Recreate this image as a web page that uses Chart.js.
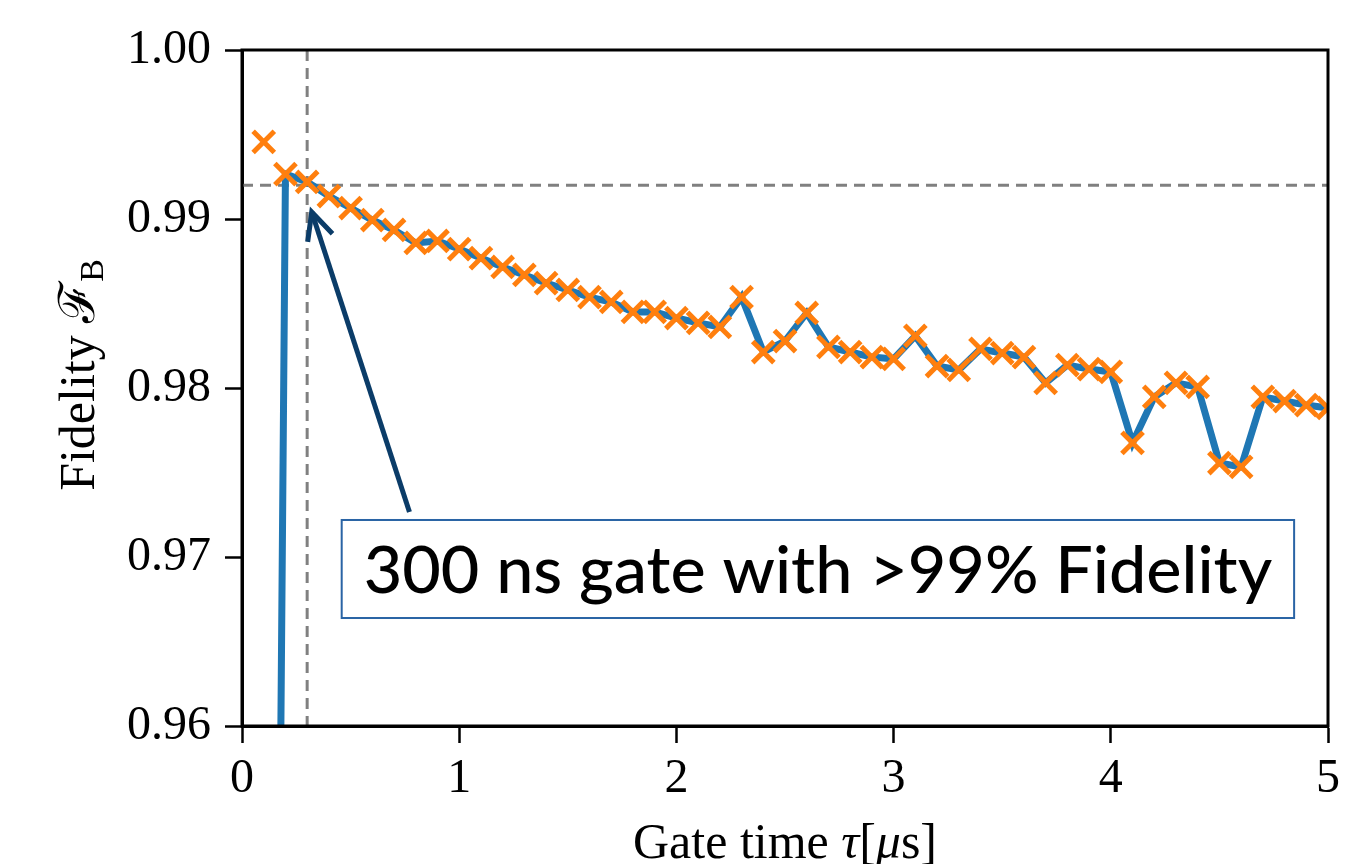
<!DOCTYPE html>
<html lang="en">
<head>
  <meta charset="UTF-8">
  <title>Gate fidelity vs gate time</title>
  <script src="https://cdn.jsdelivr.net/npm/chart.js"></script>
  <style>
    body { margin: 0; background: #fff; }
    canvas { display: block; }
  </style>
</head>
<body>
  <canvas id="fidelityChart" width="1348" height="864"></canvas>
  <script>
    // gate time in microseconds
    const gateTime = [
      0.1, 0.2, 0.3, 0.4, 0.5, 0.6, 0.7, 0.8, 0.9, 1.0,
      1.1, 1.2, 1.3, 1.4, 1.5, 1.6, 1.7, 1.8, 1.9, 2.0,
      2.1, 2.2, 2.3, 2.4, 2.5, 2.6, 2.7, 2.8, 2.9, 3.0,
      3.1, 3.2, 3.3, 3.4, 3.5, 3.6, 3.7, 3.8, 3.9, 4.0,
      4.1, 4.2, 4.3, 4.4, 4.5, 4.6, 4.7, 4.8, 4.9, 5.0
    ];
    // fidelity at each marker (orange crosses)
    const fidelity = [
      0.99456, 0.99266, 0.99219, 0.99136, 0.99065, 0.98994, 0.98935, 0.98858, 0.98870, 0.98822,
      0.98769, 0.98716, 0.98669, 0.98621, 0.98580, 0.98538, 0.98509, 0.98450, 0.98450, 0.98414,
      0.98385, 0.98361, 0.98538, 0.98213, 0.98278, 0.98444, 0.98243, 0.98213, 0.98183, 0.98172,
      0.98308, 0.98130, 0.98107, 0.98231, 0.98207, 0.98183, 0.98030, 0.98136, 0.98112, 0.98095,
      0.97675, 0.97947, 0.98030, 0.98006, 0.97556, 0.97533, 0.97947, 0.97923, 0.97899, 0.97882
    ];
    // the blue curve: same as markers except the first (off-scale) point
    const lineFidelity = [0.837].concat(fidelity.slice(1));

    const xTicks = [0, 1, 2, 3, 4, 5];
    const yTicks = [0.96, 0.97, 0.98, 0.99, 1.00];

    const targetFidelity = 0.992;
    const targetTime = 0.3;
    const noteText = '300 ns gate with >99% Fidelity';

    const serif = "'Liberation Serif', 'DejaVu Serif', serif";

    const markerPts = gateTime.map((t, i) => ({ x: t, y: fidelity[i] }));
    const linePts = gateTime.map((t, i) => ({ x: t, y: lineFidelity[i] }));

    function richText(ctx, parts, x, y, align) {
      // parts: [{t, font, dy}]
      let total = 0;
      parts.forEach(p => { ctx.font = p.font; p.w = ctx.measureText(p.t).width; total += p.w; });
      let cx = align === 'center' ? x - total / 2 : x;
      parts.forEach(p => {
        ctx.font = p.font;
        ctx.fillText(p.t, cx, y + (p.dy || 0));
        cx += p.w;
      });
    }

    const decorations = {
      id: 'decorations',
      beforeDatasetsDraw(chart) {
        const { ctx, chartArea: a, scales: { x, y } } = chart;
        ctx.save();
        ctx.strokeStyle = '#808080';
        ctx.lineWidth = 3;
        ctx.setLineDash([11, 7]);
        const py = y.getPixelForValue(targetFidelity);
        ctx.beginPath();
        ctx.moveTo(a.left, py);
        ctx.lineTo(a.right, py);
        ctx.stroke();
        const px = x.getPixelForValue(targetTime);
        ctx.beginPath();
        ctx.moveTo(px, a.top);
        ctx.lineTo(px, a.bottom);
        ctx.stroke();
        ctx.restore();
      },
      afterDatasetsDraw(chart) {
        const { ctx, chartArea: a, scales: { x, y } } = chart;
        ctx.save();

        // arrow pointing to the 300 ns point
        const tx = x.getPixelForValue(0.771), ty = y.getPixelForValue(0.97266);
        const hx = x.getPixelForValue(0.321), hy = y.getPixelForValue(0.99041);
        ctx.strokeStyle = '#0b3c68';
        ctx.lineWidth = 5;
        ctx.lineCap = 'butt';
        ctx.beginPath();
        ctx.moveTo(tx, ty);
        ctx.lineTo(hx, hy);
        ctx.stroke();
        const ang = Math.atan2(ty - hy, tx - hx);
        const len = 30, spread = 0.45;
        ctx.beginPath();
        ctx.moveTo(hx + len * Math.cos(ang - spread), hy + len * Math.sin(ang - spread));
        ctx.lineTo(hx, hy);
        ctx.lineTo(hx + len * Math.cos(ang + spread), hy + len * Math.sin(ang + spread));
        ctx.stroke();

        // annotation box
        const bx1 = x.getPixelForValue(0.459), bx2 = x.getPixelForValue(4.844);
        const by1 = y.getPixelForValue(0.97219), by2 = y.getPixelForValue(0.96639);
        ctx.fillStyle = '#ffffff';
        ctx.fillRect(bx1, by1, bx2 - bx1, by2 - by1);
        ctx.strokeStyle = '#2a64a5';
        ctx.lineWidth = 2;
        ctx.strokeRect(bx1, by1, bx2 - bx1, by2 - by1);

        // fit text inside the box
        const family = "Lato, 'Noto Sans', sans-serif";
        ctx.font = '500 100px ' + family;
        const w100 = ctx.measureText(noteText).width;
        const size = 100 * (bx2 - bx1 - 44) / w100;
        ctx.font = '500 ' + size.toFixed(1) + 'px ' + family;
        ctx.fillStyle = '#000';
        ctx.textAlign = 'center';
        ctx.textBaseline = 'middle';
        ctx.fillText(noteText, (bx1 + bx2) / 2, (by1 + by2) / 2 + 3);
        ctx.restore();
      },
      afterDraw(chart) {
        const { ctx, chartArea: a } = chart;
        ctx.save();
        // frame on all four sides
        ctx.strokeStyle = '#000';
        ctx.lineWidth = 3;
        ctx.strokeRect(a.left, a.top, a.right - a.left, a.bottom - a.top);

        ctx.fillStyle = '#000';
        ctx.textAlign = 'left';
        ctx.textBaseline = 'alphabetic';
        // x title
        richText(ctx, [
          { t: 'Gate time ', font: '50px ' + serif },
          { t: 'τ', font: 'italic 50px ' + serif },
          { t: '[', font: '50px ' + serif },
          { t: 'μ', font: 'italic 50px ' + serif },
          { t: 's]', font: '50px ' + serif }
        ], (a.left + a.right) / 2, 858, 'center');

        // y title
        ctx.translate(94, 375);
        ctx.rotate(-Math.PI / 2);
        richText(ctx, [
          { t: 'Fidelity ', font: '50px ' + serif },
          { t: 'ℱ', font: '50px ' + serif },
          { t: 'B', font: '34px ' + serif, dy: 9 }
        ], 0, 0, 'center');
        ctx.restore();
      }
    };

    const ctx = document.getElementById('fidelityChart').getContext('2d');
    new Chart(ctx, {
      type: 'scatter',
      data: {
        datasets: [
          {
            label: 'Fidelity (markers)',
            data: markerPts,
            showLine: false,
            pointStyle: 'crossRot',
            pointRadius: 15,
            pointBorderWidth: 5,
            borderColor: '#ff7f0e',
            backgroundColor: '#ff7f0e',
            order: 0
          },
          {
            label: 'Fidelity (line)',
            data: linePts,
            showLine: true,
            borderColor: '#1f77b4',
            borderWidth: 7,
            pointRadius: 0,
            order: 1
          }
        ]
      },
      options: {
        responsive: false,
        animation: false,
        devicePixelRatio: 1,
        layout: { autoPadding: false, padding: { top: 50, right: 16, left: 0, bottom: 0 } },
        plugins: {
          legend: { display: false },
          tooltip: { enabled: false }
        },
        scales: {
          x: {
            type: 'linear',
            min: 0,
            max: 5,
            afterBuildTicks(s) { s.ticks = xTicks.map(v => ({ value: v })); },
            afterFit(s) { s.height = 138; },
            ticks: {
              color: '#000',
              font: { family: serif, size: 48 },
              padding: 8,
              maxRotation: 0,
              callback: v => String(v)
            },
            grid: {
              drawOnChartArea: false,
              tickLength: 17,
              tickWidth: 2.5,
              tickColor: '#000'
            },
            border: { color: '#000', width: 3 }
          },
          y: {
            min: 0.96,
            max: 1.0,
            afterBuildTicks(s) { s.ticks = yTicks.map(v => ({ value: v })); },
            afterFit(s) { s.width = 242; },
            ticks: {
              color: '#000',
              font: { family: serif, size: 48 },
              padding: 14,
              callback: v => Number(v).toFixed(2)
            },
            grid: {
              drawOnChartArea: false,
              tickLength: 17,
              tickWidth: 2.5,
              tickColor: '#000'
            },
            border: { color: '#000', width: 3 }
          }
        }
      },
      plugins: [decorations]
    });
  </script>
</body>
</html>
